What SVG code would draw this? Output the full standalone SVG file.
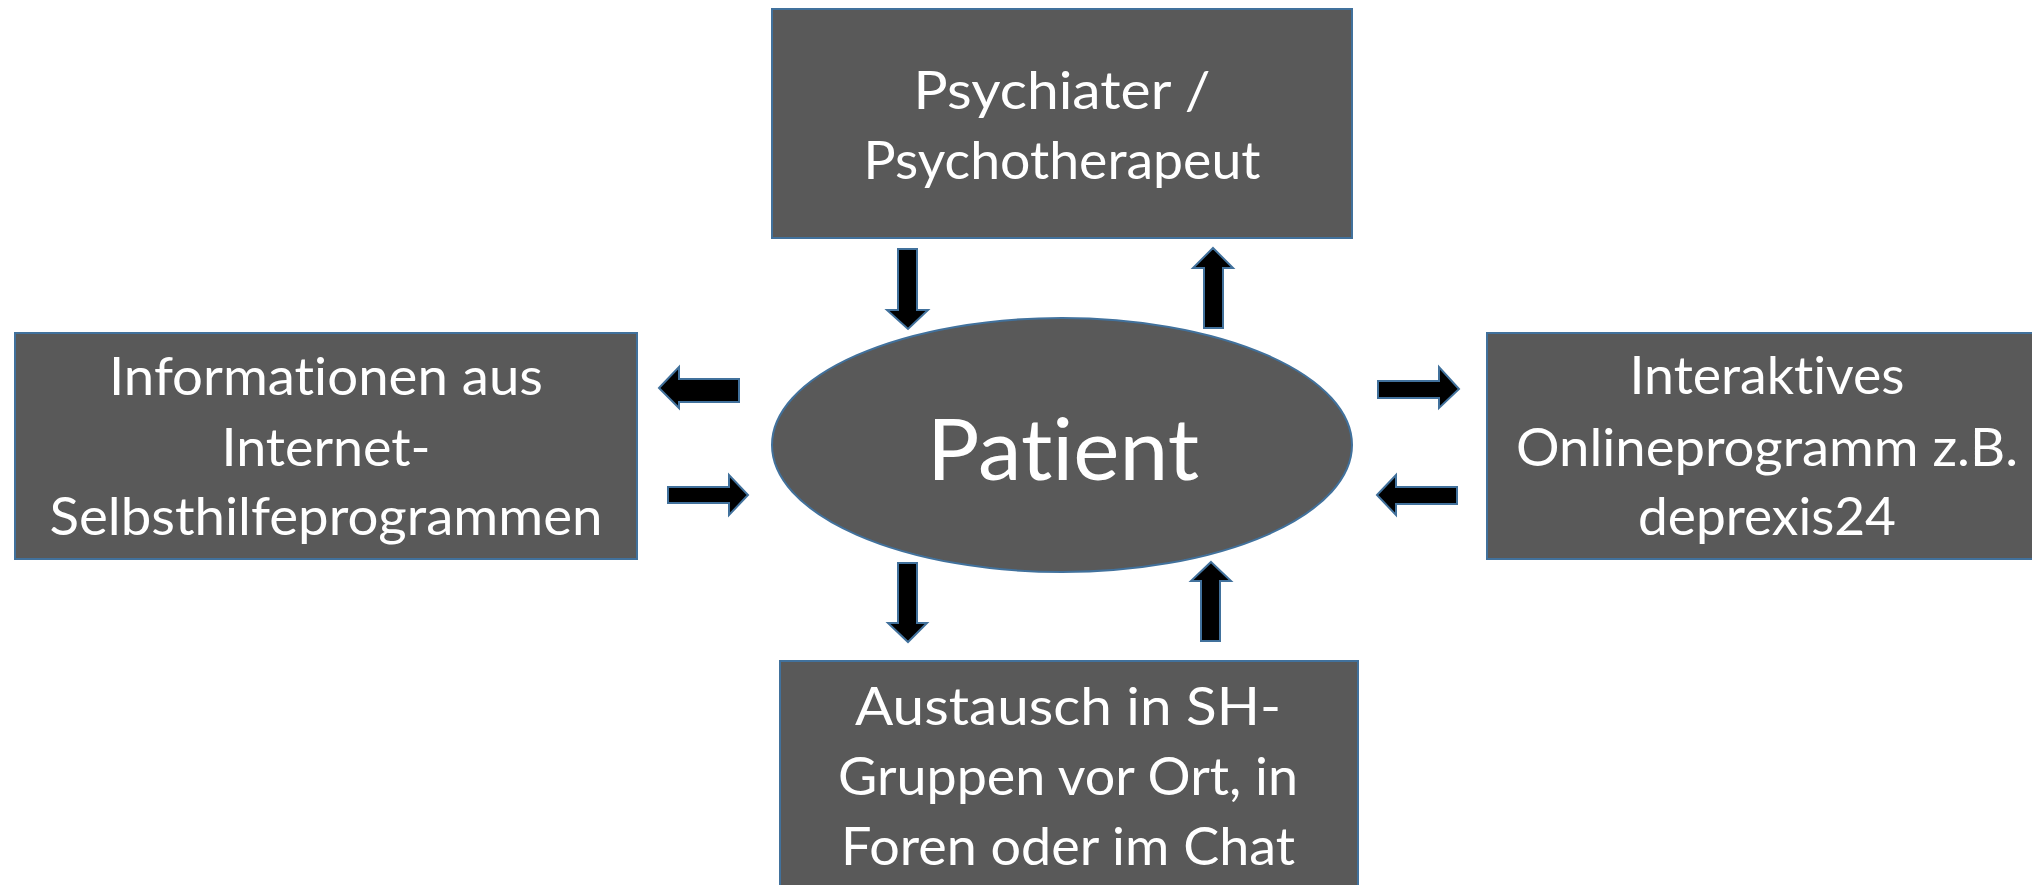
<svg xmlns="http://www.w3.org/2000/svg" width="2032" height="885" viewBox="0 0 2032 885">
<style>
.box{fill:#595959;stroke:#41719C;stroke-width:2}
.t{fill:#ffffff;font-family:Lato,"Liberation Sans",sans-serif;font-size:53px;text-anchor:middle;font-variant-ligatures:none;font-feature-settings:"liga" 0,"clig" 0,"dlig" 0}
.big{font-size:86px}
.arr{fill:#000000;stroke:#41719C;stroke-width:2;stroke-linejoin:miter}
</style>
<rect width="2032" height="885" fill="#ffffff"/>
<g id="connectors">
<polygon class="arr" points="898,249 917,249 917,310 928,310 908,329 887,310 898,310"/>
<polygon class="arr" points="1213,248 1233,268 1223,268 1223,328 1204,328 1204,268 1193,268"/>
<polygon class="arr" points="659,388 679,367 679,379 739,379 739,402 679,402 679,408"/>
<polygon class="arr" points="668,487 729,487 729,475 748,495 729,515 729,503 668,503"/>
<polygon class="arr" points="1378,381 1439,381 1439,367 1459,389 1439,408 1439,398 1378,398"/>
<polygon class="arr" points="1377,495 1396,475 1396,487 1457,487 1457,504 1396,504 1396,515"/>
<polygon class="arr" points="898,563 917,563 917,623 927,623 908,642 888,623 898,623"/>
<polygon class="arr" points="1211,562 1231,581 1220,581 1220,641 1201,641 1201,581 1191,581"/>
</g>
<g id="node-top">
<rect class="box" x="772" y="9" width="580" height="229"/>
<text class="t" x="1062" y="109" textLength="297" lengthAdjust="spacingAndGlyphs">Psychiater /</text>
<text class="t" x="1062" y="179" textLength="397" lengthAdjust="spacingAndGlyphs">Psychotherapeut</text>
</g>
<g id="node-left">
<rect class="box" x="15" y="333" width="622" height="226"/>
<text class="t" x="326" y="395" textLength="434" lengthAdjust="spacingAndGlyphs">Informationen aus</text>
<text class="t" x="326" y="466" textLength="209" lengthAdjust="spacingAndGlyphs">Internet-</text>
<text class="t" x="326" y="535" textLength="553" lengthAdjust="spacingAndGlyphs">Selbsthilfeprogrammen</text>
</g>
<g id="node-right">
<rect class="box" x="1487" y="333" width="580" height="226"/>
<text class="t" x="1767" y="394" textLength="275" lengthAdjust="spacingAndGlyphs">Interaktives</text>
<text class="t" x="1767" y="466" textLength="502" lengthAdjust="spacingAndGlyphs">Onlineprogramm z.B.</text>
<text class="t" x="1767" y="535" textLength="258" lengthAdjust="spacingAndGlyphs">deprexis24</text>
</g>
<g id="node-bottom">
<rect class="box" x="780" y="661" width="578" height="240"/>
<text class="t" x="1068" y="725" textLength="426" lengthAdjust="spacingAndGlyphs">Austausch in SH-</text>
<text class="t" x="1068" y="795" textLength="460" lengthAdjust="spacingAndGlyphs">Gruppen vor Ort, in</text>
<text class="t" x="1068" y="865" textLength="454" lengthAdjust="spacingAndGlyphs">Foren oder im Chat</text>
</g>
<g id="node-patient">
<ellipse class="box" cx="1062" cy="445" rx="290" ry="127"/>
<text class="t big" x="1063" y="480" textLength="272" lengthAdjust="spacingAndGlyphs">Patient</text>
</g>
</svg>
